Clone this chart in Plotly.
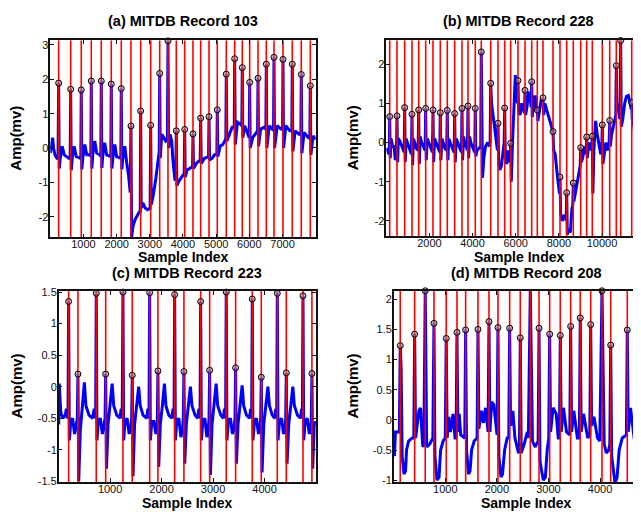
import plotly.graph_objects as go

W, H = 641, 514

# ---------------- Panel (a) MITDB Record 103 ----------------
a_peak_x = [253, 615, 934, 1236, 1537, 1839, 2140, 2432, 2725, 3026, 3298, 3548, 3798, 4051, 4301,
            4533, 4784, 5034, 5305, 5558, 5787, 6010, 6261, 6511, 6743, 7014, 7294, 7566, 7837]
a_peak_y = [1.89, 1.71, 1.69, 1.95, 1.95, 1.86, 1.73, 0.64, 1.08, 0.66, 2.17, 3.12, 0.50, 0.54, 0.41,
            0.87, 0.91, 1.11, 2.15, 2.60, 2.34, 1.91, 2.03, 2.44, 2.64, 2.58, 2.44, 2.14, 1.81]
a_wave = [(1,-0.15),(40,0.1),(70,0.3),(100,0.0),(140,-0.2),(200,-0.3),(235,-0.3),(270,-0.6),(300,-0.3),
          (360,0.05),(420,-0.2),(560,-0.3),(600,-0.3),(632,-0.65),(660,-0.3),(720,0.05),(780,-0.25),
          (900,-0.3),(920,-0.3),(951,-0.62),(980,-0.3),(1040,0.1),(1100,-0.2),(1200,-0.2),(1222,-0.25),
          (1253,-0.6),(1280,-0.2),(1340,0.2),(1400,-0.15),(1500,-0.2),(1523,-0.25),(1554,-0.58),
          (1580,-0.25),(1640,0.15),(1700,-0.2),(1800,-0.25),(1825,-0.25),(1856,-0.6),(1885,-0.3),
          (1945,0.1),(2000,-0.25),(2100,-0.3),(2126,-0.3),(2157,-0.62),(2185,-0.3),(2245,0.05),
          (2300,-0.4),(2360,-0.8),(2410,-1.3),(2452,-2.6),(2490,-2.3),(2550,-2.1),(2620,-1.95),
          (2690,-1.85),(2711,-1.9),(2742,-1.75),(2790,-1.6),(2860,-1.75),(2930,-1.8),(3010,-1.75),
          (3043,-1.65),(3100,-1.4),(3180,-0.9),(3250,-0.4),(3284,-0.1),(3315,-0.3),(3360,0.4),
          (3420,0.3),(3480,0.2),(3530,0.25),(3565,0.0),(3610,0.4),(3660,0.2),(3700,-0.4),(3760,-0.95),
          (3785,-0.9),(3815,-1.1),(3860,-1.0),(3920,-0.9),(3990,-0.8),(4038,-0.75),(4068,-0.85),
          (4120,-0.65),(4200,-0.6),(4270,-0.55),(4288,-0.55),(4318,-0.6),(4400,-0.45),(4500,-0.35),
          (4520,-0.35),(4550,-0.45),(4650,-0.3),(4760,-0.25),(4771,-0.25),(4801,-0.35),(4880,-0.3),
          (4950,-0.2),(5021,-0.2),(5051,-0.25),(5120,0.05),(5200,0.1),(5260,0.2),(5292,0.3),(5322,0.2),
          (5400,0.4),(5480,0.6),(5545,0.6),(5575,0.1),(5640,0.75),(5720,0.7),(5774,0.65),(5804,0.3),
          (5860,0.65),(5940,0.45),(5997,0.3),(6027,0.0),(6100,0.3),(6200,0.45),(6248,0.5),(6278,0.05),
          (6340,0.55),(6440,0.6),(6498,0.55),(6528,0.0),(6600,0.65),(6690,0.55),(6730,0.6),(6760,0.0),
          (6840,0.65),(6950,0.55),(7001,0.55),(7031,0.0),(7100,0.65),(7220,0.5),(7281,0.5),(7311,-0.1),
          (7380,0.5),(7500,0.4),(7553,0.45),(7583,-0.15),(7650,0.45),(7780,0.3),(7824,0.3),(7854,-0.2),
          (7920,0.35),(8000,0.25)]
a_xrange = [1, 8000]
a_yrange = [-2.6, 3.14]
a_xticks = [1000, 2000, 3000, 4000, 5000, 6000, 7000]
a_yticks = [-2, -1, 0, 1, 2, 3]

# ---------------- Panel (b) MITDB Record 228 ----------------
b_peak_x = [158, 496, 853, 1191, 1502, 1826, 2165, 2503, 2827, 3170, 3509, 3787, 4125, 4403, 4839,
            5177, 5488, 5766, 6104, 6429, 6739, 6999, 7263, 7727, 8051, 8362, 8667, 9010, 9289, 9548,
            10012, 10355, 10661, 10864, 11374, 11759, 12097]
b_peak_y = [0.66, 0.68, 0.89, 0.72, 0.83, 0.87, 0.83, 0.76, 0.82, 0.74, 0.87, 0.93, 0.87, 2.31, 1.51,
            0.49, 0.88, -0.02, 1.58, 1.33, 1.55, 0.83, 1.14, 0.28, -0.88, -1.28, -1.03, -0.13, 0.14, 0.16,
            0.45, 0.56, 1.96, 2.60, 1.02, -0.63, 0.10]
b_wave = [(1,-0.15),(60,-0.2),(120,-0.3),(140,-0.25),(185,-0.4),(220,0.1),(260,0.0),(300,-0.1),(360,-0.1),
          (420,-0.45),(470,-0.3),(525,-0.5),(560,0.1),(620,0.05),(700,-0.05),(780,-0.15),(830,-0.25),
          (880,-0.5),(920,0.1),(980,0.0),(1050,-0.1),(1120,-0.2),(1165,-0.3),(1218,-0.58),(1260,0.1),
          (1320,0.0),(1400,-0.15),(1476,-0.2),(1530,-0.55),(1570,0.15),(1640,0.0),(1720,-0.1),(1800,-0.2),
          (1853,-0.45),(1900,0.1),(1960,0.0),(2050,-0.15),(2140,-0.25),(2192,-0.5),(2240,0.1),(2300,0.0),
          (2400,-0.15),(2478,-0.25),(2530,-0.45),(2580,0.1),(2640,0.0),(2720,-0.15),(2800,-0.2),
          (2854,-0.45),(2900,0.1),(2960,0.0),(3060,-0.15),(3145,-0.25),(3197,-0.5),(3240,0.1),(3300,0.0),
          (3400,-0.15),(3484,-0.25),(3536,-0.45),(3580,0.15),(3640,0.0),(3760,-0.2),(3814,-0.4),
          (3860,0.15),(3920,0.0),(4020,-0.15),(4100,-0.25),(4152,-0.35),(4200,-0.2),(4300,-0.15),
          (4378,-0.1),(4430,-0.6),(4460,-0.9),(4520,-0.4),(4600,-0.1),(4700,0.0),(4780,-0.1),(4814,0.0),
          (4880,1.0),(4960,0.6),(5060,0.2),(5120,-0.1),(5152,-0.2),(5210,-0.5),(5260,-0.7),(5330,-0.6),
          (5400,-0.3),(5463,0.0),(5515,-0.3),(5580,-0.55),(5640,-0.2),(5700,-0.45),(5741,-0.5),
          (5793,-1.0),(5850,0.0),(5930,1.1),(5980,1.72),(6040,1.2),(6080,1.0),(6131,0.8),(6200,0.7),
          (6280,1.0),(6360,0.85),(6404,0.75),(6456,0.7),(6520,0.9),(6600,1.3),(6680,1.1),(6714,0.9),
          (6766,0.65),(6820,1.0),(6900,1.2),(6974,0.8),(7026,0.55),(7100,0.8),(7180,1.1),(7238,1.0),
          (7290,0.7),(7350,1.0),(7450,0.8),(7550,0.6),(7650,0.4),(7702,0.3),(7754,-0.2),(7830,-0.3),
          (7900,-0.7),(7980,-1.1),(8026,-1.3),(8078,-1.8),(8150,-2.0),(8250,-1.85),(8320,-1.9),
          (8337,-2.0),(8389,-2.35),(8450,-2.2),(8530,-2.3),(8600,-1.7),(8642,-1.6),(8694,-1.5),
          (8760,-1.3),(8850,-1.0),(8940,-0.8),(8985,-0.6),(9037,-0.5),(9100,-0.4),(9180,-0.1),
          (9240,-0.3),(9264,-0.2),(9316,-0.4),(9350,-0.2),(9420,0.0),(9500,-0.2),(9523,-0.1),
          (9575,-1.3),(9620,-0.2),(9700,0.55),(9780,0.2),(9860,-0.1),(9940,-0.3),(9987,-0.2),
          (10039,-0.55),(10100,-0.3),(10180,0.0),(10260,-0.2),(10330,0.0),(10382,-0.1),(10440,0.2),
          (10520,0.45),(10600,0.6),(10636,0.7),(10688,0.8),(10750,1.0),(10820,0.6),(10839,0.9),
          (10891,0.4),(10960,0.6),(11050,1.0),(11130,1.18),(11220,1.2),(11300,1.0),(11349,0.85),
          (11401,0.6),(11480,0.4),(11560,0.0),(11640,-0.5),(11700,-0.8),(11734,-0.9),(11786,-1.6),
          (11840,-1.0),(11920,-0.8),(12000,-0.7),(12072,-0.5),(12124,-0.4),(12176,-0.45)]
b_xrange = [1, 12176]
b_yrange = [-2.39, 2.61]
b_xticks = [2000, 4000, 6000, 8000, 10000]
b_yticks = [-2, -1, 0, 1, 2]

# ---------------- Panel (c) MITDB Record 223 ----------------
c_peak_x = [194, 375, 731, 914, 1249, 1430, 1768, 1929, 2254, 2434, 2759, 2934, 3256, 3438, 3762, 3937,
            4248, 4423, 4747, 4921]
c_peak_y = [1.35, 0.20, 1.48, 0.20, 1.50, 0.18, 1.49, 0.25, 1.46, 0.24, 1.35, 0.26, 1.50, 0.30, 1.39,
            0.15, 1.48, 0.22, 1.44, 0.21]
c_wave = [(1,-0.6),(12,0.05),(40,-0.4),(80,-0.5),(130,-0.45),(150,-0.35),(170,-0.5),(182,-0.45),
          (208,-0.85),(235,-0.55),(270,-0.5),(310,-0.75),(345,-0.6),(363,-0.5),(390,-1.5),(420,-0.7),
          (460,-0.3),(500,0.07),(530,-0.3),(590,-0.45),(660,-0.5),(690,-0.35),(710,-0.5),(719,-0.45),
          (745,-0.85),(770,-0.55),(810,-0.5),(850,-0.75),(890,-0.6),(902,-0.5),(929,-1.3),(960,-0.6),
          (1000,-0.3),(1040,0.05),(1070,-0.3),(1130,-0.45),(1190,-0.5),(1215,-0.35),(1235,-0.5),
          (1263,-0.85),(1290,-0.55),(1330,-0.5),(1370,-0.75),(1410,-0.6),(1418,-0.5),(1445,-1.42),
          (1475,-0.6),(1515,-0.3),(1555,0.0),(1585,-0.3),(1640,-0.45),(1710,-0.5),(1735,-0.35),
          (1755,-0.5),(1782,-0.85),(1810,-0.55),(1850,-0.55),(1890,-0.75),(1917,-0.55),(1944,-1.27),
          (1975,-0.6),(2015,-0.3),(2055,0.05),(2085,-0.3),(2140,-0.45),(2200,-0.5),(2222,-0.35),
          (2242,-0.5),(2268,-0.85),(2295,-0.55),(2335,-0.5),(2375,-0.8),(2415,-0.6),(2422,-0.5),
          (2449,-1.22),(2480,-0.6),(2520,-0.3),(2560,0.0),(2590,-0.3),(2650,-0.45),(2700,-0.5),
          (2725,-0.35),(2747,-0.5),(2773,-0.85),(2800,-0.55),(2840,-0.5),(2880,-0.8),(2915,-0.6),
          (2922,-0.5),(2949,-1.4),(2980,-0.6),(3020,-0.3),(3060,0.05),(3090,-0.3),(3150,-0.45),
          (3200,-0.5),(3222,-0.35),(3244,-0.5),(3270,-0.85),(3297,-0.55),(3337,-0.5),(3377,-0.75),
          (3415,-0.6),(3426,-0.5),(3453,-1.22),(3485,-0.6),(3525,-0.3),(3565,0.02),(3595,-0.3),
          (3650,-0.45),(3710,-0.5),(3730,-0.35),(3750,-0.5),(3776,-0.85),(3803,-0.55),(3843,-0.5),
          (3883,-0.75),(3915,-0.6),(3925,-0.5),(3952,-1.36),(3985,-0.6),(4025,-0.3),(4065,0.0),
          (4095,-0.3),(4150,-0.45),(4200,-0.5),(4218,-0.35),(4236,-0.5),(4262,-0.85),(4290,-0.55),
          (4330,-0.5),(4370,-0.75),(4405,-0.6),(4411,-0.5),(4438,-1.22),(4470,-0.6),(4510,-0.3),
          (4550,0.0),(4580,-0.3),(4640,-0.45),(4700,-0.5),(4718,-0.35),(4735,-0.5),(4761,-0.85),
          (4790,-0.55),(4830,-0.5),(4870,-0.75),(4905,-0.6),(4909,-0.5),(4936,-1.3),(4965,-0.6),
          (5000,-0.55)]
c_xrange = [1, 5000]
c_yrange = [-1.51, 1.52]
c_xticks = [1000, 2000, 3000, 4000]
c_yticks = [-1.5, -1, -0.5, 0, 0.5, 1, 1.5]

# ---------------- Panel (d) MITDB Record 208 ----------------
d_peak_x = [128, 407, 612, 781, 1019, 1227, 1395, 1634, 1847, 2021, 2248, 2454, 2648, 2817, 3023, 3229,
            3430, 3616, 3818, 4037, 4206, 4527, 4734, 4895]
d_peak_y = [1.23, 1.42, 2.14, 1.60, 1.35, 1.45, 1.49, 1.50, 1.63, 1.53, 1.52, 1.36, 2.16, 1.52, 1.42,
            1.40, 1.55, 1.69, 1.58, 2.14, 1.24, 1.49, 1.44, 1.31]
d_wave = [(1,-0.55),(15,-0.6),(35,-0.2),(80,-0.2),(110,-0.2),(145,0.85),(165,-0.6),(200,-0.9),
          (230,-0.85),(250,-0.5),(290,-0.35),(360,-0.3),(390,-0.3),(425,-0.3),(450,-0.1),(490,0.15),
          (520,0.2),(540,-0.1),(565,-0.45),(585,-0.4),(640,-0.45),(700,-0.4),(760,-0.3),(800,-0.6),
          (840,-1.0),(880,-0.95),(910,-0.5),(960,-0.35),(1000,-0.3),(1037,-0.3),(1070,0.05),(1100,-0.2),
          (1150,0.1),(1190,-0.3),(1210,-0.3),(1245,-0.2),(1270,0.1),(1300,-0.25),(1378,-0.3),
          (1413,-0.5),(1450,-0.9),(1480,-0.85),(1510,-0.5),(1560,-0.35),(1617,-0.3),(1652,-0.15),
          (1700,0.15),(1740,-0.05),(1780,0.2),(1830,-0.2),(1865,-0.2),(1900,0.3),(1940,0.25),
          (1990,-0.2),(2004,-0.25),(2039,-0.6),(2080,-0.95),(2110,-0.9),(2150,-0.5),(2200,-0.3),
          (2231,-0.3),(2266,-0.1),(2310,0.15),(2350,-0.3),(2420,-0.55),(2437,-0.5),(2472,-0.55),
          (2530,-0.4),(2590,-0.2),(2610,-0.3),(2690,-0.35),(2740,-0.45),(2800,-0.35),(2835,-0.68),
          (2900,-1.0),(2940,-0.95),(2975,-0.5),(3006,-0.3),(3041,-0.2),(3090,0.2),(3150,0.1),
          (3190,-0.3),(3212,-0.3),(3247,-0.2),(3290,0.2),(3350,-0.2),(3413,-0.25),(3448,-0.2),
          (3490,0.15),(3560,-0.3),(3599,-0.3),(3634,-0.2),(3680,0.1),(3760,-0.3),(3801,-0.25),
          (3836,-0.1),(3880,0.05),(3950,-0.3),(3995,-0.35),(4080,-0.4),(4120,-0.55),(4170,-0.5),
          (4189,-0.4),(4224,-0.6),(4290,-1.05),(4330,-0.95),(4370,-0.5),(4430,-0.3),(4490,-0.25),
          (4510,-0.25),(4545,-0.2),(4590,0.2),(4660,-0.3),(4717,-0.3),(4752,-0.5),(4800,-0.95),
          (4830,-0.85),(4870,-0.5),(4880,-0.4),(4910,0.5),(4925,-0.4),(4948,-0.45)]
d_xrange = [1, 4948]
d_yrange = [-1.03, 2.14]
d_xticks = [1000, 2000, 3000, 4000]
d_yticks = [-1, -0.5, 0, 0.5, 1, 1.5, 2]

titles = ["(a) MITDB Record 103", "(b) MITDB Record 228", "(c) MITDB Record 223", "(d) MITDB Record 208"]

FONT = "Liberation Sans, Arial, Helvetica, sans-serif"


def fmt(v):
    return "%g" % v


def px_x(p):
    return p / W


def px_y(p):
    return 1 - p / H


panels = [
    dict(px=a_peak_x, py=a_peak_y, wave=a_wave, xr=a_xrange, yr=a_yrange, xt=a_xticks, yt=a_yticks,
         box=(42.3, 307.7, 27.7, 228.7), right_open=False),
    dict(px=b_peak_x, py=b_peak_y, wave=b_wave, xr=b_xrange, yr=b_yrange, xt=b_xticks, yt=b_yticks,
         box=(378.3, 641, 27.7, 227.7), right_open=True),
    dict(px=c_peak_x, py=c_peak_y, wave=c_wave, xr=c_xrange, yr=c_yrange, xt=c_xticks, yt=c_yticks,
         box=(50.7, 308.0, 283.3, 478.3), right_open=False),
    dict(px=d_peak_x, py=d_peak_y, wave=d_wave, xr=d_xrange, yr=d_yrange, xt=d_xticks, yt=d_yticks,
         box=(385.7, 641, 283.3, 478.3), right_open=True),
]

fig = go.Figure()
layout = {}
annotations = []

for i, p in enumerate(panels, start=1):
    sfx = "" if i == 1 else str(i)
    xa, ya = "x" + sfx, "y" + sfx
    # signal: waveform points merged with the R-peak points
    pts = sorted(list(p["wave"]) + list(zip(p["px"], p["py"])))
    fig.add_trace(go.Scatter(x=[q[0] for q in pts], y=[q[1] for q in pts], mode="lines",
                             line=dict(color="#0000ff", width=3), xaxis=xa, yaxis=ya,
                             showlegend=False, hoverinfo="skip"))
    # red vertical lines at each detected peak
    vx, vy = [], []
    for x in p["px"]:
        vx += [x, x, None]
        vy += [p["yr"][0], p["yr"][1], None]
    fig.add_trace(go.Scatter(x=vx, y=vy, mode="lines", line=dict(color="#ff0000", width=1.6),
                             xaxis=xa, yaxis=ya, showlegend=False, hoverinfo="skip"))
    # peak markers
    fig.add_trace(go.Scatter(x=p["px"], y=p["py"], mode="markers",
                             marker=dict(symbol="circle", size=6, color="rgba(160,120,150,0.5)",
                                         line=dict(color="black", width=1)),
                             xaxis=xa, yaxis=ya, showlegend=False, cliponaxis=False, hoverinfo="skip"))

    l, r, t, b = p["box"]
    common = dict(showline=True, linecolor="#111111", linewidth=1.5, ticks="inside", ticklen=4,
                  tickwidth=1, tickcolor="#111111", showgrid=False, zeroline=False,
                  tickfont=dict(family=FONT, size=11, color="#111111"), tickmode="array")
    layout["xaxis" + sfx] = dict(common, domain=[px_x(l), px_x(r)], range=p["xr"], anchor=ya,
                                 tickvals=p["xt"], ticktext=[fmt(v) for v in p["xt"]], mirror="ticks")
    layout["yaxis" + sfx] = dict(common, domain=[px_y(b), px_y(t)], range=p["yr"], anchor=xa,
                                 tickvals=p["yt"], ticktext=[fmt(v) for v in p["yt"]],
                                 mirror=(False if p["right_open"] else "ticks"))

    cx = (l + (r if not p["right_open"] else l + 265.4)) / 2
    title_y = 8 if i <= 2 else 265
    xlab_y = 248.5 if i <= 2 else 500
    ylab_x = 8 if i in (1, 3) else 344
    annotations.append(dict(text="<b>%s</b>" % titles[i - 1], x=px_x(cx), y=px_y(title_y), xref="paper",
                            yref="paper", xanchor="center", yanchor="middle", showarrow=False,
                            font=dict(family=FONT, size=14.5, color="black")))
    annotations.append(dict(text="<b>Sample Index</b>", x=px_x(cx), y=px_y(xlab_y), xref="paper",
                            yref="paper", xanchor="center", yanchor="middle", showarrow=False,
                            font=dict(family=FONT, size=14, color="black")))
    annotations.append(dict(text="<b>Amp(mv)</b>", x=px_x(ylab_x), y=px_y((t + b) / 2), xref="paper",
                            yref="paper", xanchor="center", yanchor="middle", showarrow=False,
                            textangle=-90, font=dict(family=FONT, size=15, color="black")))

fig.update_layout(width=W, height=H, margin=dict(l=0, r=0, t=0, b=0), paper_bgcolor="white",
                  plot_bgcolor="white", annotations=annotations, **layout)

# pull tick labels slightly closer to the axes, as in the original
try:
    fig.update_xaxes(ticklabelstandoff=-4)
    fig.update_yaxes(ticklabelstandoff=-2)
except Exception:
    pass

fig.write_html("out.html")
